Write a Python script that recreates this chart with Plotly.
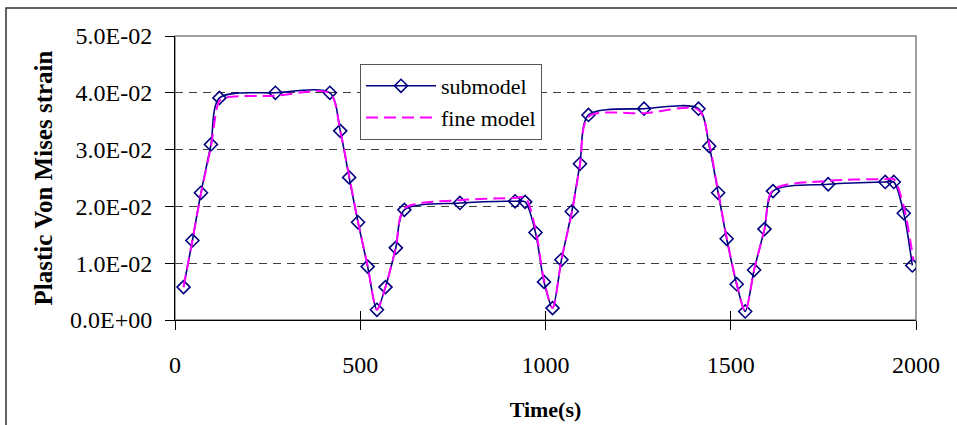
import plotly.graph_objects as go

# --- data ---
sub_time = [23, 47, 70, 97, 120, 271, 418, 446, 470, 494, 520, 545, 568, 596, 619,
            769, 918, 945, 973, 996, 1019, 1043, 1071, 1093, 1116, 1266, 1413, 1442,
            1466, 1489, 1516, 1539, 1563, 1591, 1614, 1763, 1917, 1940, 1967, 1990]
sub_strain = [0.0058, 0.0140, 0.0224, 0.0309, 0.0391, 0.0400, 0.0400, 0.0333, 0.0251,
              0.0172, 0.0094, 0.0018, 0.0058, 0.0127, 0.0194, 0.0206, 0.0209, 0.0208,
              0.0154, 0.0067, 0.0021, 0.0106, 0.0191, 0.0275, 0.0361, 0.0372, 0.0372,
              0.0306, 0.0224, 0.0143, 0.0063, 0.0015, 0.0088, 0.0160, 0.0227, 0.0239,
              0.0243, 0.0243, 0.0188, 0.0096]

fine_time = [23, 47, 70, 97, 120, 140, 271, 418, 446, 470, 494, 520, 545, 568, 596, 619,
             769, 918, 945, 973, 996, 1019, 1043, 1071, 1093, 1116, 1266, 1413, 1442,
             1466, 1489, 1516, 1539, 1563, 1591, 1614, 1763, 1917, 1940, 1967, 1993]
fine_strain = [0.0058, 0.0140, 0.0222, 0.0305, 0.0386, 0.0392, 0.0395, 0.0399, 0.0333,
               0.0253, 0.0173, 0.0095, 0.0018, 0.0058, 0.0127, 0.0196, 0.0211, 0.0215,
               0.0216, 0.0160, 0.0070, 0.0021, 0.0106, 0.0189, 0.0272, 0.0358, 0.0364,
               0.0370, 0.0310, 0.0226, 0.0145, 0.0064, 0.0015, 0.0088, 0.0160, 0.0229,
               0.0245, 0.0248, 0.0248, 0.0200, 0.0105]

x_ticks = [0, 500, 1000, 1500, 2000]
y_ticks = [0.0, 0.01, 0.02, 0.03, 0.04, 0.05]
y_tick_labels = ["0.0E+00", "1.0E-02", "2.0E-02", "3.0E-02", "4.0E-02", "5.0E-02"]

SERIF = "Liberation Serif, Times New Roman, serif"

fig = go.Figure()
fig.add_trace(go.Scatter(
    x=sub_time, y=sub_strain, name="submodel", mode="lines+markers",
    line=dict(color="#000080", width=1.6, shape="spline", smoothing=0.8),
    marker=dict(symbol="diamond-open", size=10, color="#000080", line=dict(width=1.6)),
))
fig.add_trace(go.Scatter(
    x=fine_time, y=fine_strain, name="fine model", mode="lines",
    line=dict(color="#FF00FF", width=2, dash="12px,6px", shape="spline", smoothing=0.8),
))
# invisible helper trace on overlay axis for inside tick marks (cross ticks)
fig.add_trace(go.Scatter(x=[0, 2000], y=[0, 0], xaxis="x2", mode="lines",
                         line=dict(width=0), showlegend=False, hoverinfo="skip"))

fig.update_layout(
    width=957, height=425,
    margin=dict(l=175, r=41, t=36, b=105),
    paper_bgcolor="white", plot_bgcolor="white",
    font=dict(family=SERIF, size=24, color="black"),
    showlegend=True,
    legend=dict(
        x=(360 - 175) / 741, y=(320 - 64) / 284, xanchor="left", yanchor="top",
        bgcolor="white", bordercolor="#555555", borderwidth=1,
        font=dict(family=SERIF, size=22), itemwidth=70,
        tracegroupgap=0,
    ),
    xaxis=dict(
        range=[0, 2000], tickvals=x_ticks, ticks="outside", ticklen=9, tickcolor="black",
        showline=True, linecolor="black", linewidth=1, showgrid=False, zeroline=False,
        ticklabelstandoff=14, automargin=False,
        title=dict(text="<b>Time(s)</b>", font=dict(family=SERIF, size=22), standoff=24),
    ),
    xaxis2=dict(
        range=[0, 2000], tickvals=x_ticks, ticks="inside", ticklen=9, tickcolor="black",
        overlaying="x", side="bottom", showticklabels=False, showgrid=False,
        zeroline=False, showline=False, automargin=False,
    ),
    yaxis=dict(
        range=[0, 0.05], tickvals=y_ticks, ticktext=y_tick_labels,
        ticks="outside", ticklen=9, tickcolor="black",
        showline=True, linecolor="black", linewidth=1, zeroline=False,
        showgrid=True, gridcolor="#404040", griddash="8px,6px", gridwidth=1,
        ticklabelstandoff=8, automargin=False,
        title=dict(text="<b>Plastic Von Mises strain</b>", font=dict(family=SERIF, size=25),
                   standoff=10),
    ),
    shapes=[
        # plot area frame (gray top/right)
        dict(type="rect", xref="paper", yref="paper", x0=0, y0=0, x1=1, y1=1,
             line=dict(color="#808080", width=1.5), layer="below"),
        # outer chart border
        dict(type="rect", xref="paper", yref="paper",
             x0=(6 - 175) / 741, y0=(320 - 440) / 284, x1=(965 - 175) / 741, y1=(320 - 8) / 284,
             line=dict(color="#303030", width=1.5), layer="below"),
    ],
)

fig.write_html("out.html")
